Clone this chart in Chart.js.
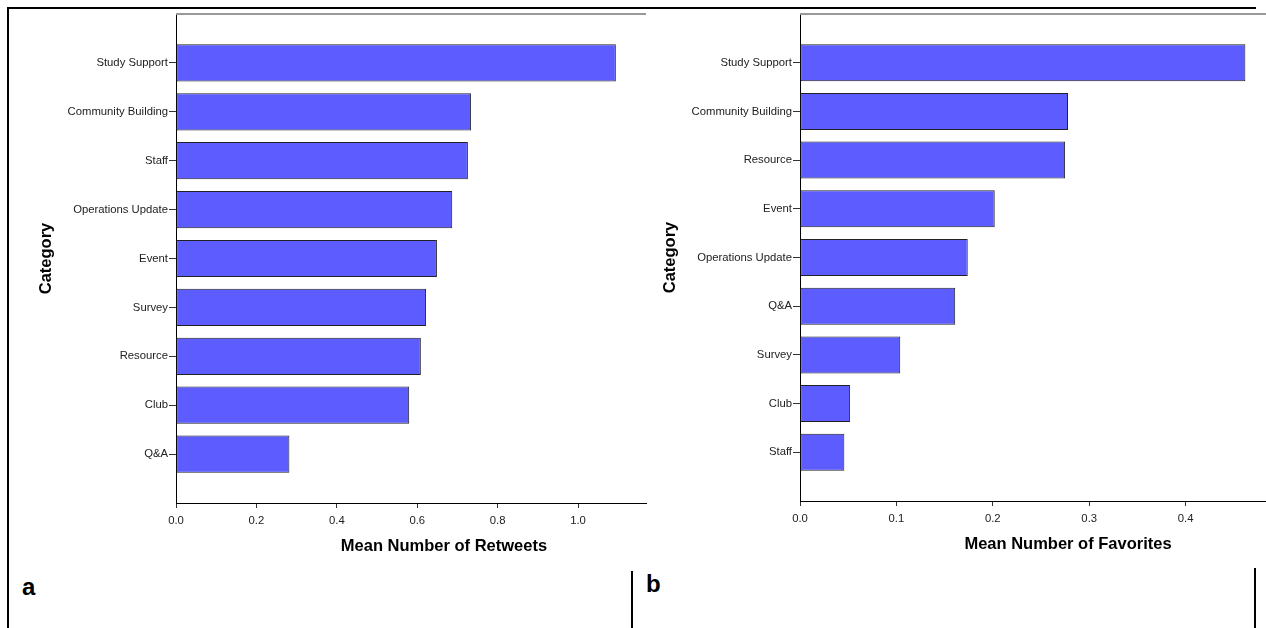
<!DOCTYPE html>
<html>
<head>
<meta charset="utf-8">
<script src="https://cdn.jsdelivr.net/npm/chart.js@4.4.1/dist/chart.umd.min.js"></script>
<style>
  body { margin:0; background:#fff; width:1266px; height:628px; position:relative; overflow:hidden;
         font-family:"Liberation Sans", Arial, sans-serif; }
  canvas { position:absolute; top:0; }
  #retweets { left:0; }
  #favorites { left:640px; }
  .rule { position:absolute; background:#000; }
  .tag { position:absolute; font-weight:bold; font-size:24px; line-height:24px; color:#000; }
</style>
</head>
<body>
<div class="rule" style="left:7px;top:7px;width:1249px;height:2px"></div>
<div class="rule" style="left:7px;top:7px;width:2px;height:621px"></div>
<div class="rule" style="left:631px;top:571px;width:2px;height:57px"></div>
<div class="rule" style="left:1254px;top:568px;width:2px;height:60px"></div>
<div class="tag" style="left:22px;top:575px">a</div>
<div class="tag" style="left:646px;top:572px">b</div>

<canvas id="retweets" width="660" height="560"></canvas>
<canvas id="favorites" width="626" height="560"></canvas>

<script>
// panel a
const retweetCategories = ['Study Support', 'Community Building', 'Staff', 'Operations Update', 'Event', 'Survey', 'Resource', 'Club', 'Q&A'];
const retweetMeans = [1.094, 0.734, 0.726, 0.687, 0.649, 0.622, 0.609, 0.580, 0.282];
const retweetTicks = [0, 0.2, 0.4, 0.6, 0.8, 1.0];

// panel b
const favoriteCategories = ['Study Support', 'Community Building', 'Resource', 'Event', 'Operations Update', 'Q&A', 'Survey', 'Club', 'Staff'];
const favoriteMeans = [0.462, 0.278, 0.275, 0.202, 0.174, 0.161, 0.104, 0.052, 0.046];
const favoriteTicks = [0, 0.1, 0.2, 0.3, 0.4];

const FONT = '"Liberation Sans", Arial, sans-serif';
Chart.defaults.font.family = FONT;

// top frame line + axis titles
const frame = {
  id: 'frame',
  afterDraw(chart, args, opts) {
    const { ctx, chartArea: a } = chart;
    ctx.save();
    ctx.strokeStyle = '#999';
    ctx.lineWidth = 2;
    ctx.beginPath();
    ctx.moveTo(a.left, a.top);
    ctx.lineTo(a.right, a.top);
    ctx.stroke();

    ctx.fillStyle = '#000';
    ctx.font = 'bold 16.5px ' + FONT;
    ctx.textAlign = 'center';
    ctx.textBaseline = 'middle';
    ctx.fillText(opts.xTitle, a.left + 268, a.bottom + 43);
    ctx.translate(a.left - 130, (a.top + a.bottom) / 2);
    ctx.rotate(-Math.PI / 2);
    ctx.fillText(opts.yTitle, 0, 0);
    ctx.restore();
  }
};

function makeChart(id, cats, vals, ticks, max, axisWidth, axisHeight, padRight, xTitle) {
  // blank slot at both ends so bars sit a full band away from the frame
  const labels = ['', ...cats, ''];
  const data = [null, ...vals, null];
  return new Chart(document.getElementById(id), {
    type: 'bar',
    data: {
      labels: labels,
      datasets: [{
        data: data,
        backgroundColor: '#5c5cff',
        borderColor: '#222',
        borderWidth: 1,
        borderSkipped: false,
        barPercentage: 0.76,
        categoryPercentage: 1
      }]
    },
    options: {
      indexAxis: 'y',
      responsive: false,
      animation: false,
      layout: { padding: { top: 14, left: 0, right: padRight, bottom: 0 } },
      plugins: {
        legend: { display: false },
        tooltip: { enabled: false },
        frame: { xTitle: xTitle, yTitle: 'Category' }
      },
      scales: {
        y: {
          type: 'category',
          offset: false,
          grid: {
            offset: false,
            drawOnChartArea: false,
            tickLength: 7,
            tickColor: c => (c.tick && c.tick.label) ? '#333' : 'rgba(0,0,0,0)'
          },
          border: { color: '#000', width: 1 },
          ticks: { autoSkip: false, padding: 1, color: '#222', font: { size: 11.3 } },
          afterFit(s) { s.width = axisWidth; }
        },
        x: {
          type: 'linear',
          min: 0,
          max: max,
          grid: { drawOnChartArea: false, tickLength: 5, tickColor: '#333' },
          border: { color: '#000', width: 1 },
          ticks: {
            includeBounds: false,
            maxRotation: 0,
            autoSkip: false,
            padding: 6,
            color: '#222',
            font: { size: 11.3 },
            callback: v => Number(v).toFixed(1)
          },
          afterBuildTicks(s) { s.ticks = ticks.map(v => ({ value: v })); },
          afterFit(s) { s.height = axisHeight; }
        }
      }
    },
    plugins: [frame]
  });
}

makeChart('retweets', retweetCategories, retweetMeans, retweetTicks, 1.169, 176, 57, 14, 'Mean Number of Retweets');
makeChart('favorites', favoriteCategories, favoriteMeans, favoriteTicks, 0.4834, 160, 59, 0, 'Mean Number of Favorites');
</script>
</body>
</html>
